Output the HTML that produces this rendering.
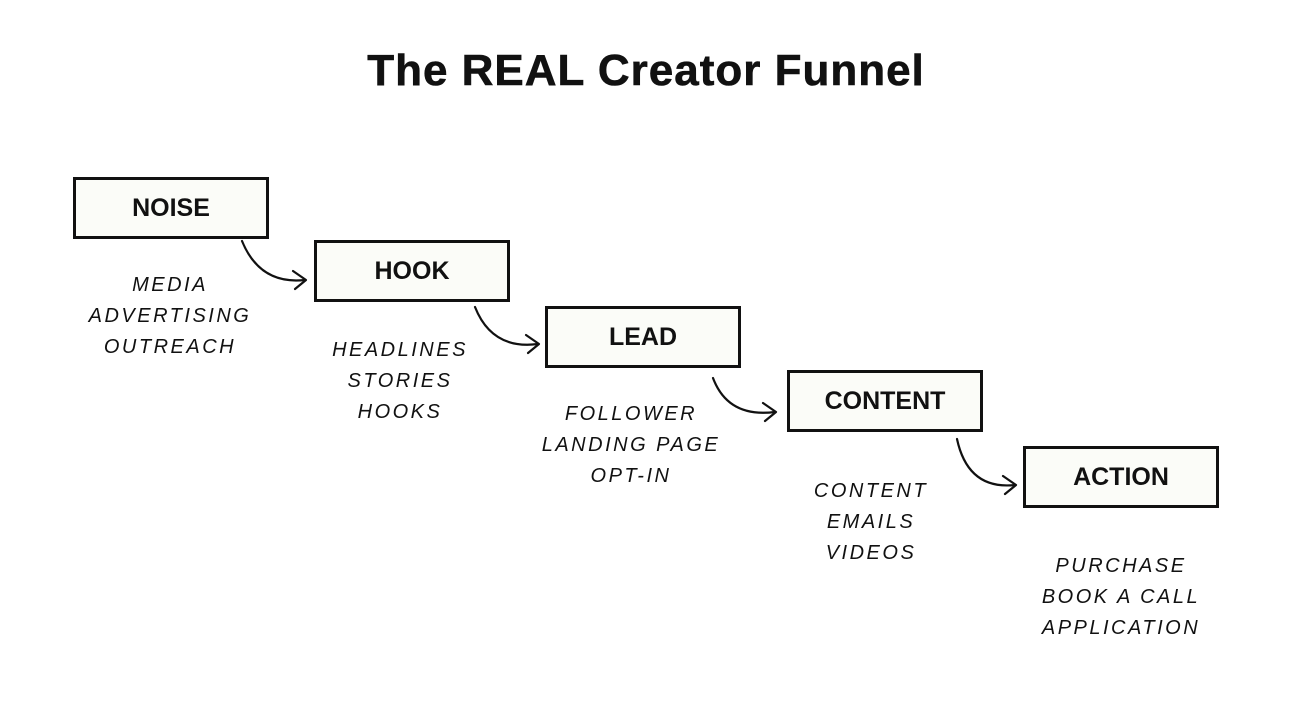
<!DOCTYPE html>
<html><head><meta charset="utf-8"><style>
body{margin:0;width:1292px;height:727px;background:#fff;position:relative;overflow:hidden;font-family:"Liberation Sans",sans-serif}
h1{position:absolute;top:46px;left:0;width:1292px;text-align:center;margin:0;font-size:44px;font-weight:bold;color:#111;letter-spacing:1px;-webkit-text-stroke:0.6px #111}
.b{position:absolute;box-sizing:border-box;width:196px;height:62px;border:3px solid #111;background:#fbfcf8;display:flex;align-items:center;justify-content:center;font-weight:bold;font-size:25px;color:#111}
.t{position:absolute;width:240px;text-align:center;font-style:italic;font-size:20px;line-height:31px;letter-spacing:2.5px;color:#111}
svg{position:absolute;left:0;top:0}
</style></head><body>
<h1>The REAL Creator Funnel</h1>
<div class="b" style="left:73px;top:177px">NOISE</div>
<div class="b" style="left:314px;top:240px">HOOK</div>
<div class="b" style="left:545px;top:306px">LEAD</div>
<div class="b" style="left:787px;top:370px">CONTENT</div>
<div class="b" style="left:1023px;top:446px">ACTION</div>
<div class="t" style="left:50px;top:270px">MEDIA<br>ADVERTISING<br>OUTREACH</div>
<div class="t" style="left:280px;top:335px">HEADLINES<br>STORIES<br>HOOKS</div>
<div class="t" style="left:511px;top:399px">FOLLOWER<br>LANDING PAGE<br>OPT-IN</div>
<div class="t" style="left:751px;top:476px">CONTENT<br>EMAILS<br>VIDEOS</div>
<div class="t" style="left:1001px;top:551px">PURCHASE<br>BOOK A CALL<br>APPLICATION</div>
<svg width="1292" height="727" fill="none" stroke="#111" stroke-width="2.2" stroke-linecap="round" stroke-linejoin="round">
<path d="M242 241 Q260 285 305 280"/><path d="M293 271 L306 280 L295 289"/>
<path d="M475 307 Q492 350 538 344"/><path d="M526 335 L539 344 L528 353"/>
<path d="M713 378 Q728 418 775 412"/><path d="M763 403 L776 412 L765 421"/>
<path d="M957 439 Q968 490 1015 485"/><path d="M1003 476 L1016 485 L1005 494"/>
</svg>
</body></html>
